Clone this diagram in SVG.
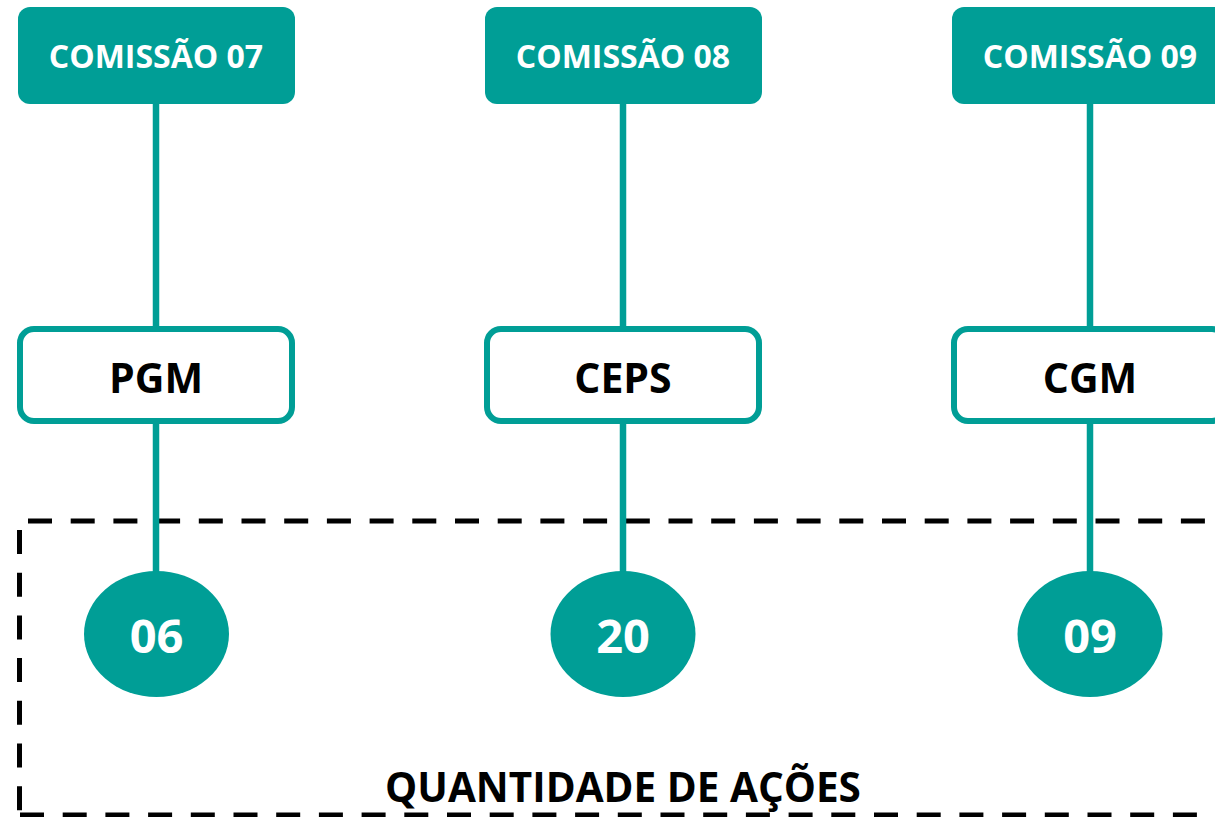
<svg xmlns="http://www.w3.org/2000/svg" width="1215" height="817" viewBox="0 0 1215 817">
<style>
.top{fill:#009E96}
.mid{fill:#fff;stroke:#009E96;stroke-width:6}
.num{fill:#009E96}
.conn{stroke:#009E96;stroke-width:6.5;fill:none}
.dash{stroke:#000;stroke-width:5;stroke-dasharray:24 18.7;fill:none}
.tw{font-family:"Open Sans","DejaVu Sans",sans-serif;font-weight:bold;fill:#fff;text-anchor:middle}
.tb{font-family:"Open Sans","DejaVu Sans",sans-serif;font-weight:bold;fill:#000;text-anchor:middle}
</style>
<rect width="1215" height="817" fill="#fff"/>
<g id="frame">
<line class="dash" x1="28" y1="521" x2="1240" y2="521"/>
<line class="dash" x1="19.5" y1="530" x2="19.5" y2="815"/>
<line class="dash" x1="20" y1="815" x2="1240" y2="815"/>
</g>
<g id="connectors">
<line class="conn" x1="156" y1="104" x2="156" y2="328"/>
<line class="conn" x1="156" y1="421" x2="156" y2="575"/>
<line class="conn" x1="623" y1="104" x2="623" y2="328"/>
<line class="conn" x1="623" y1="421" x2="623" y2="575"/>
<line class="conn" x1="1090" y1="104" x2="1090" y2="328"/>
<line class="conn" x1="1090" y1="421" x2="1090" y2="575"/>
</g>
<g id="c07"><rect class="top" x="18" y="7" width="277" height="97" rx="12"/><text class="tw" x="156" y="68" font-size="32">COMISSÃO 07</text></g>
<g id="c08"><rect class="top" x="485" y="7" width="277" height="97" rx="12"/><text class="tw" x="623" y="68" font-size="32">COMISSÃO 08</text></g>
<g id="c09"><rect class="top" x="952" y="7" width="277" height="97" rx="12"/><text class="tw" x="1090" y="68" font-size="32">COMISSÃO 09</text></g>
<g id="pgm"><rect class="mid" x="20" y="329" width="272" height="92" rx="14"/><text class="tb" x="156" y="393" font-size="41">PGM</text></g>
<g id="ceps"><rect class="mid" x="487" y="329" width="272" height="92" rx="14"/><text class="tb" x="623" y="393" font-size="41">CEPS</text></g>
<g id="cgm"><rect class="mid" x="954" y="329" width="272" height="92" rx="14"/><text class="tb" x="1090" y="393" font-size="41">CGM</text></g>
<g id="n06"><ellipse class="num" cx="156.5" cy="634" rx="72.5" ry="63"/><text class="tw" x="156.5" y="653" font-size="47">06</text></g>
<g id="n20"><ellipse class="num" cx="623" cy="634" rx="72.5" ry="63"/><text class="tw" x="623" y="653" font-size="47">20</text></g>
<g id="n09"><ellipse class="num" cx="1090" cy="634" rx="72.5" ry="63"/><text class="tw" x="1090" y="653" font-size="47">09</text></g>
<g id="label"><text class="tb" x="623" y="802" font-size="40.5">QUANTIDADE DE AÇÕES</text></g>
</svg>
